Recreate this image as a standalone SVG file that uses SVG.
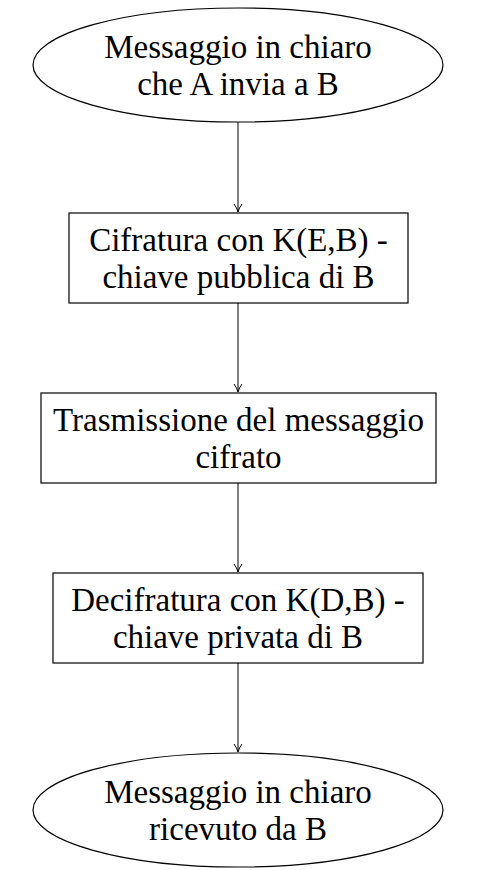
<svg xmlns="http://www.w3.org/2000/svg" width="496" height="870" viewBox="0 0 496 870">
<defs>
<style>
.n{fill:#fff;stroke:#000;stroke-width:1.2}
.t{font-family:"Liberation Serif","DejaVu Serif",serif;font-size:33px;fill:#000;text-anchor:middle}
.c{stroke:#000;stroke-width:1;fill:none}
</style>
<marker id="ah" markerWidth="12" markerHeight="10" refX="9" refY="5" orient="auto" markerUnits="userSpaceOnUse">
<path d="M1,1 Q5,4 9,5 Q5,6 1,9" fill="none" stroke="#000" stroke-width="1"/>
</marker>
</defs>
<rect width="496" height="870" fill="#fff"/>
<g id="connectors">
<line class="c" x1="238" y1="122" x2="238" y2="212" marker-end="url(#ah)"/>
<line class="c" x1="238" y1="303" x2="238" y2="392" marker-end="url(#ah)"/>
<line class="c" x1="238" y1="483" x2="238" y2="572" marker-end="url(#ah)"/>
<line class="c" x1="238" y1="663" x2="238" y2="752" marker-end="url(#ah)"/>
</g>
<g id="start">
<ellipse class="n" cx="238" cy="65" rx="205" ry="57"/>
<text class="t" x="238" y="58">Messaggio in chiaro</text>
<text class="t" x="238" y="95">che A invia a B</text>
</g>
<g id="encrypt">
<rect class="n" x="69" y="213" width="339" height="90"/>
<text class="t" x="238.5" y="251">Cifratura con K(E,B) -</text>
<text class="t" x="238.5" y="288">chiave pubblica di B</text>
</g>
<g id="transmit">
<rect class="n" x="41" y="393" width="395" height="90"/>
<text class="t" x="238.5" y="431">Trasmissione del messaggio</text>
<text class="t" x="238.5" y="468">cifrato</text>
</g>
<g id="decrypt">
<rect class="n" x="53" y="573" width="370" height="90"/>
<text class="t" x="238" y="611">Decifratura con K(D,B) -</text>
<text class="t" x="238" y="648">chiave privata di B</text>
</g>
<g id="end">
<ellipse class="n" cx="238" cy="810" rx="205" ry="57"/>
<text class="t" x="238" y="803">Messaggio in chiaro</text>
<text class="t" x="238" y="840">ricevuto da B</text>
</g>
</svg>
